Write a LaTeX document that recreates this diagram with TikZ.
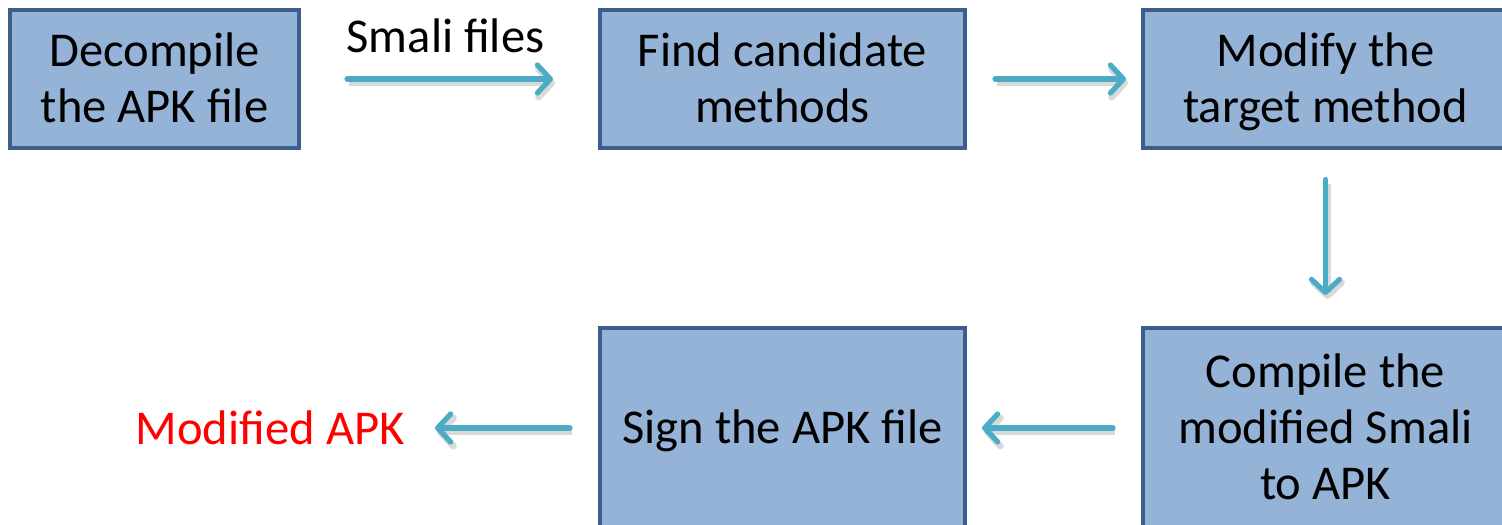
\documentclass[tikz,border=0pt]{standalone}
\usepackage{fontspec}
\setmainfont{Carlito}
\usetikzlibrary{arrows.meta,positioning}
\definecolor{boxfill}{HTML}{95B3D7}
\definecolor{boxline}{HTML}{3B5E8C}
\definecolor{flow}{HTML}{4BACC6}
\definecolor{outred}{HTML}{FF0000}
% fixed top and bottom extents for the text block inside each box
\newcommand\topstrut{\rule{0pt}{21.6pt}}
\newcommand\botstrut{\rule[-6.2pt]{0pt}{6.2pt}}
\tikzset{
  stepbox/.style={draw=boxline, line width=2pt, fill=boxfill, minimum width=182.5pt,
    align=center, inner sep=0pt, font=\fontsize{24.3}{28}\selectfont},
  flowarrow/.style={draw=flow, line width=2.6pt, line cap=round,
    -{Straight Barb[length=6.5pt,width=14pt,round]},
    preaction={draw=black, draw opacity=0.15, line width=3.4pt, transform canvas={xshift=1pt,yshift=-2pt}}},
  plain/.style={font=\fontsize{24.3}{28}\selectfont, inner sep=0pt}
}
\begin{document}
\begin{tikzpicture}[x=0.5pt,y=-0.5pt]
  \useasboundingbox (0,0) rectangle (1502,524);
  \clip (0,0) rectangle (1502,524);
  % top row
  \node[stepbox, minimum width=144.5pt, minimum height=68.5pt] (decomp) at (154.5,79) {\topstrut Decompile\\the APK file\botstrut};
  \node[stepbox, minimum height=68.5pt] (find) at (782.5,79) {\topstrut Find candidate\\methods\botstrut};
  \node[stepbox, minimum height=68.5pt] (modify) at (1325.5,79) {\topstrut Modify the\\target method\botstrut};
  % bottom row
  \node[stepbox, minimum height=100pt] (compile) at (1325.5,428) {\topstrut Compile the\\modified Smali\\to APK\botstrut};
  \node[stepbox, minimum height=100pt] (sign) at (782.5,428) {\topstrut Sign the APK file\botstrut};
  \node[plain, text=outred, anchor=east] (out) at (405,428) {Modified APK};
  % connectors
  \draw[flowarrow, shorten <=23pt, shorten >=22.5pt] (decomp.east) -- (find.west)
    node[midway, above=12pt, xshift=-2pt, plain] (smali) {Smali files};
  \draw[flowarrow, shorten <=14pt, shorten >=7.5pt] (find.east) -- (modify.west);
  \draw[flowarrow, shorten <=15pt, shorten >=15.5pt] (modify.south) -- (compile.north);
  \draw[flowarrow, shorten <=14pt, shorten >=7.5pt] (compile.west) -- (sign.east);
  \draw[flowarrow, shorten <=14pt, shorten >=15pt] (sign.west) -- (out.east);
\end{tikzpicture}
\end{document}
